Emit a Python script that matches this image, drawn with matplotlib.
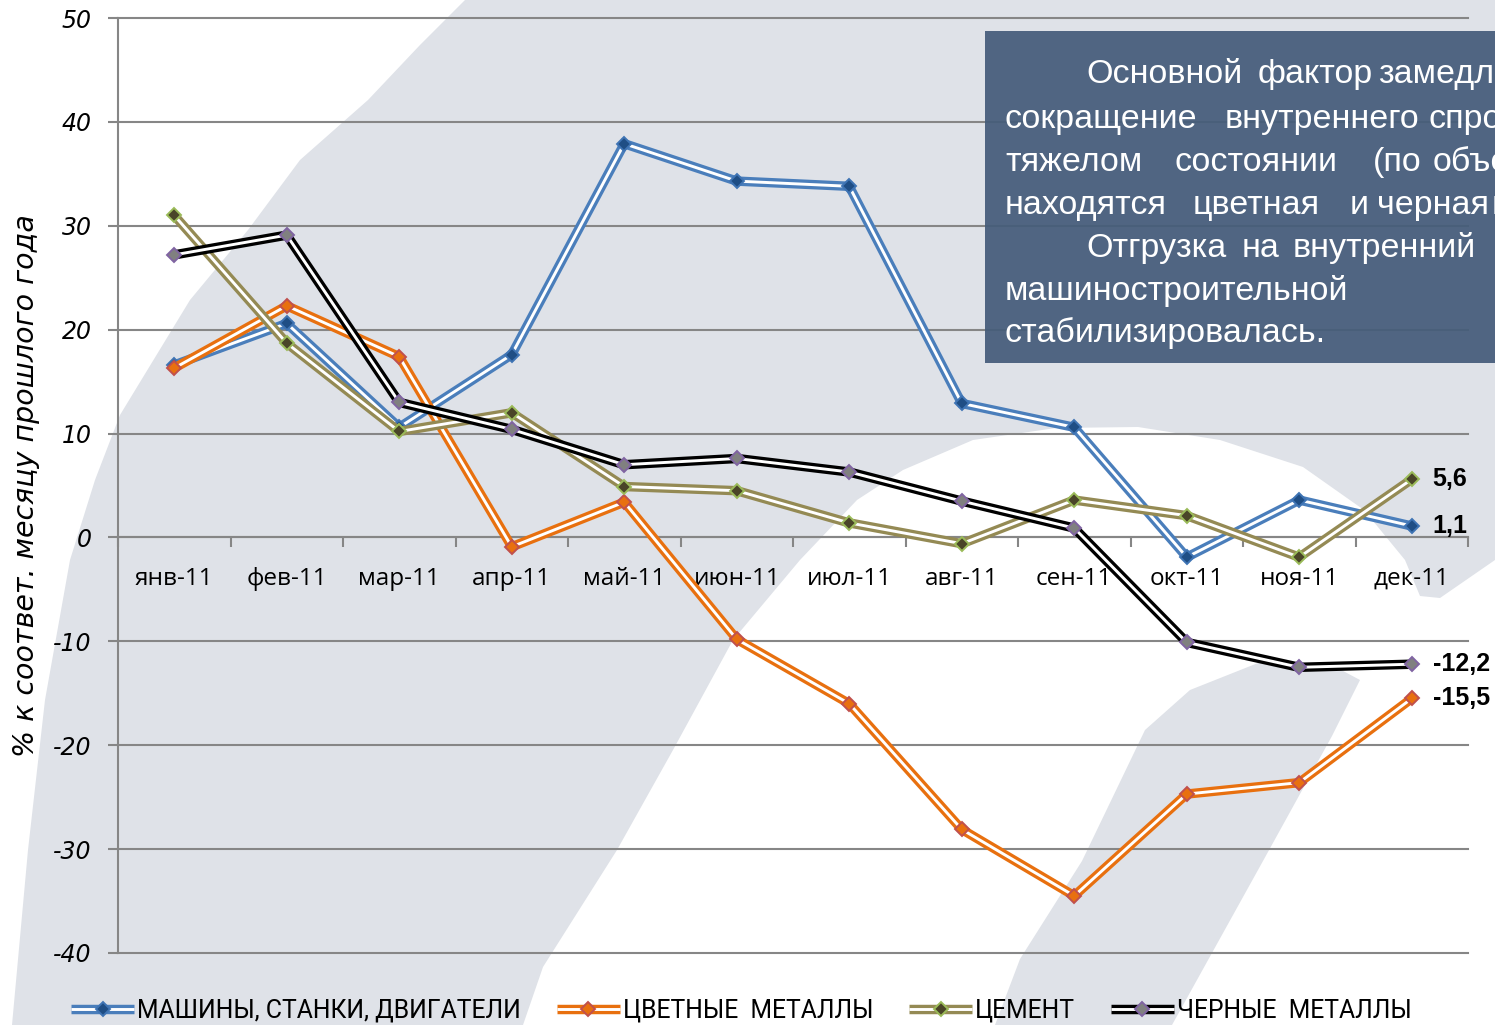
import matplotlib
matplotlib.use('Agg')
import matplotlib.pyplot as plt
from matplotlib.patches import Polygon, Rectangle
from matplotlib.lines import Line2D
from matplotlib.legend_handler import HandlerTuple
import numpy as np

# ---------------- data ----------------
months = ['янв-11', 'фев-11', 'мар-11', 'апр-11', 'май-11', 'июн-11',
          'июл-11', 'авг-11', 'сен-11', 'окт-11', 'ноя-11', 'дек-11']
machines = [16.6, 20.6, 10.6, 17.6, 37.9, 34.3, 33.8, 12.9, 10.6, -1.9, 3.6, 1.1]
nonferrous = [16.3, 22.3, 17.4, -0.9, 3.4, -9.8, -16.0, -28.1, -34.5, -24.7, -23.6, -15.5]
cement = [31.0, 18.7, 10.2, 12.0, 4.9, 4.5, 1.4, -0.6, 3.6, 2.1, -1.9, 5.6]
ferrous = [27.2, 29.1, 13.0, 10.4, 7.0, 7.6, 6.3, 3.5, 0.9, -10.1, -12.5, -12.2]
series_names = ['МАШИНЫ, СТАНКИ, ДВИГАТЕЛИ', 'ЦВЕТНЫЕ  МЕТАЛЛЫ', 'ЦЕМЕНТ', 'ЧЕРНЫЕ  МЕТАЛЛЫ']
y_ticks = [-40, -30, -20, -10, 0, 10, 20, 30, 40, 50]
y_label = '% к соответ. месяцу прошлого года'

# ---------------- styles ----------------
W, H = 1495, 1025
line_colors = ['#4a7ebb', '#e8700f', '#948a54', '#000000']
marker_faces = ['#1f4e85', '#e8700f', '#4a4528', '#808080']
marker_edges = ['#3f74b4', '#c0504d', '#9bbb59', '#8064a2']
grid_c = '#868686'
bg_grey = '#dfe2e8'

fig = plt.figure(figsize=(W / 100, H / 100), dpi=100)
fig.patch.set_facecolor('white')


def px(pts):
    return [(x / W, 1 - y / H) for x, y in pts]


# background swoosh shapes (decorative)
shapeA = [(465, 0), (1495, 0), (1495, 560), (1440, 598), (1420, 596),
          (1405, 560), (1364, 510), (1303, 467), (1220, 440), (1138, 427),
          (1056, 428), (973, 440), (903, 470), (857, 500), (800, 560),
          (733, 640), (673, 750), (617, 850), (543, 967), (523, 1025),
          (12, 1025), (28, 850), (45, 700), (70, 560), (95, 480), (120, 415),
          (190, 300), (248, 230), (300, 160), (368, 100), (420, 45)]
shapeB = [(995, 1025), (1020, 959), (1082, 861), (1145, 730), (1190, 690),
          (1263, 661), (1330, 664), (1360, 680), (1332, 736), (1263, 861),
          (1172, 1025)]
for shp in (shapeA, shapeB):
    fig.add_artist(Polygon(px(shp), closed=True, transform=fig.transFigure,
                           facecolor=bg_grey, edgecolor='none', zorder=0))

ax = fig.add_axes([118 / W, 1 - 953 / H, (1468 - 118) / W, (953 - 18) / H])
ax.set_facecolor('none')
ax.set_zorder(1)

x = np.arange(len(months))
all_series = [machines, nonferrous, cement, ferrous]
for i, vals in enumerate(all_series):
    ax.plot(x, vals, color=line_colors[i], lw=6.8, solid_joinstyle='miter',
            solid_capstyle='butt', zorder=3 + i)
    ax.plot(x, vals, color='white', lw=2.1, solid_joinstyle='miter',
            solid_capstyle='butt', zorder=3 + i)
    ax.plot(x, vals, ls='none', marker='D', ms=7.4, mfc=marker_faces[i],
            mec=marker_edges[i], mew=1.4, zorder=3 + i)

# end-value labels
for vals in all_series:
    v = vals[-1]
    ax.annotate(f'{v:.1f}'.replace('.', ','), xy=(x[-1], v), xytext=(15, 0),
                textcoords='offset points', ha='left', va='center',
                fontsize=18, fontweight='bold', family='Liberation Sans',
                zorder=10, annotation_clip=False)

ax.set_xlim(-0.5, len(months) - 0.5)
ax.set_ylim(y_ticks[0], y_ticks[-1])
ax.set_yticks(y_ticks)
ax.set_yticklabels([str(t) for t in y_ticks])
ax.tick_params(axis='y', length=7, width=1.5, color=grid_c, pad=12,
               labelsize=17, labelfontfamily='DejaVu Sans')
for lab in ax.get_yticklabels():
    lab.set_style('italic')
ax.yaxis.grid(True, color=grid_c, lw=1.5)
for gl in ax.get_ygridlines():
    gl.set_clip_on(False)
ax.set_axisbelow(True)

ax.set_xticks(x)
ax.set_xticklabels(months)
ax.set_xticks(np.arange(-0.5, len(months), 1.0), minor=True)
ax.tick_params(axis='x', which='major', length=0, pad=21, labelsize=17.5,
               labelfontfamily='Open Sans')
ax.tick_params(axis='x', which='minor', length=7, width=1.5, color=grid_c,
               direction='out')

ax.spines['bottom'].set_position(('data', 0))
ax.spines['bottom'].set_color(grid_c)
ax.spines['bottom'].set_linewidth(1.5)
ax.spines['left'].set_color(grid_c)
ax.spines['left'].set_linewidth(1.5)
ax.spines['top'].set_visible(False)
ax.spines['right'].set_visible(False)

ax.set_ylabel(y_label, fontsize=20.5, style='italic', family='DejaVu Sans')
ax.yaxis.set_label_coords(-78 / (1468 - 118), 0.5)

# legend with double-line handles
handles = []
for i in range(4):
    outer = Line2D([], [], color=line_colors[i], lw=6.8, solid_capstyle='butt')
    inner = Line2D([], [], color='white', lw=2.1, solid_capstyle='butt')
    mk = Line2D([], [], ls='none', marker='D', ms=7.4, mfc=marker_faces[i],
                mec=marker_edges[i], mew=1.4)
    handles.append((outer, inner, mk))
leg = fig.legend(handles, series_names, loc='center left',
                 bbox_to_anchor=(71 / W, 1 - 1011 / H),
                 ncol=4, frameon=False, handlelength=2.55, handletextpad=0.12,
                 columnspacing=1.45, borderpad=0, borderaxespad=0,
                 handler_map={tuple: HandlerTuple(ndivide=1)},
                 prop={'family': 'Roboto', 'size': 17.8})
leg.set_zorder(5)

# text box
fig.add_artist(Rectangle((985 / W, 1 - 363 / H), (W - 985 + 5) / W, (363 - 31) / H,
                         transform=fig.transFigure, facecolor='#455c7a',
                         edgecolor='none', alpha=0.93, zorder=20))
box_words = [
    (74, [(1086, 'Основной'), (1258, 'фактор'), (1378, 'замедления')]),
    (119, [(1005, 'сокращение'), (1225, 'внутреннего'), (1428, 'спроса.')]),
    (162, [(1005, 'тяжелом'), (1175, 'состоянии'), (1373, '(по'), (1433, 'объемам)')]),
    (205, [(1005, 'находятся'), (1193, 'цветная'), (1350, 'и'), (1377, 'черная'),
           (1492, 'металлургия.')]),
    (248, [(1086, 'Отгрузка'), (1242, 'на'), (1293, 'внутренний')]),
    (291, [(1005, 'машиностроительной')]),
    (333, [(1005, 'стабилизировалась.')]),
]
for yc, words in box_words:
    for xw, w in words:
        fig.text(xw / W, 1 - (yc + 9) / H, w, color='white', fontsize=24.5,
                 family='Liberation Sans', ha='left', va='baseline', zorder=21)

fig.savefig('out.png', dpi=100, facecolor=fig.get_facecolor())
